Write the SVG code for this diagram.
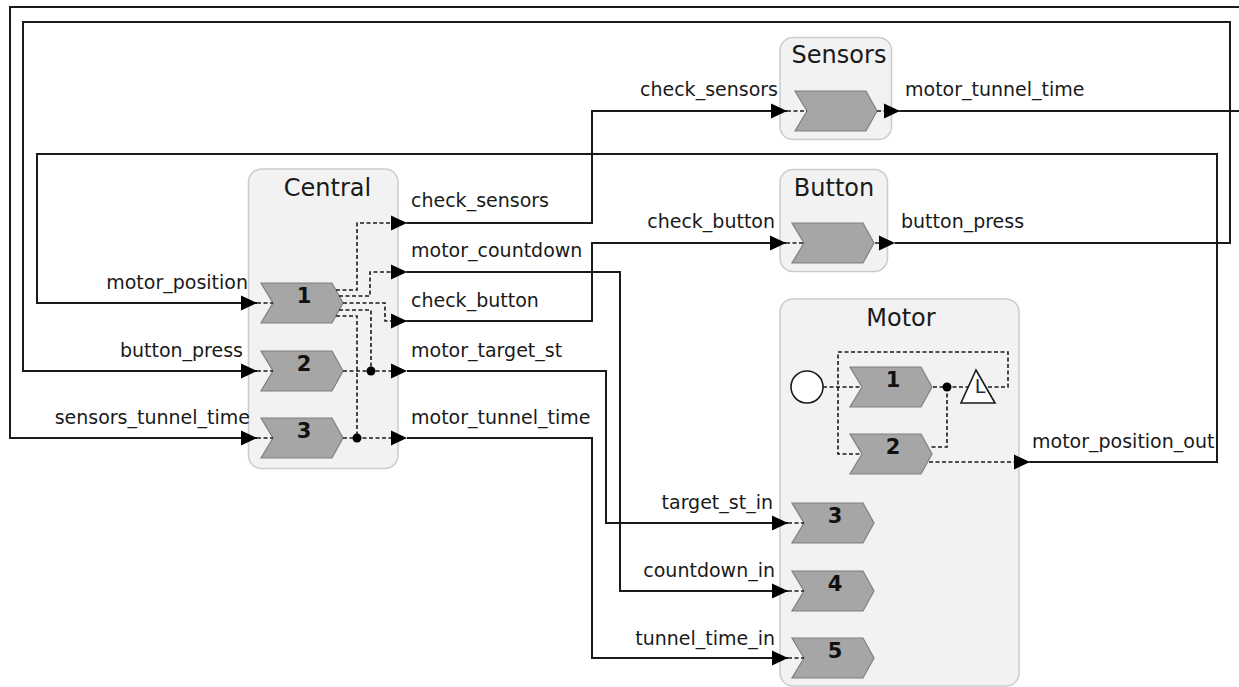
<svg xmlns="http://www.w3.org/2000/svg" xmlns:xlink="http://www.w3.org/1999/xlink" width="1239" height="687" viewBox="0 0 1239 687">
<defs>
<style>
.box{fill:#f2f2f2;stroke:#cccccc;stroke-width:1.5}
.chev{fill:#a6a6a6;stroke:#7f7f7f;stroke-width:1.2}
.title{font-family:"DejaVu Sans",sans-serif;font-size:24px;fill:#1a1a1a;text-anchor:middle}
.lbl{font-family:"DejaVu Sans",sans-serif;font-size:19px;fill:#1a1a1a}
.end{text-anchor:end}
.num{font-family:"DejaVu Sans",sans-serif;font-size:21px;font-weight:bold;fill:#111;text-anchor:middle}
.sol{fill:none;stroke:#1a1a1a;stroke-width:2}
.dash{fill:none;stroke:#1a1a1a;stroke-width:1.6;stroke-dasharray:4 2.5}
.dot{fill:#000}
</style>
<marker id="arr" markerUnits="userSpaceOnUse" markerWidth="16" markerHeight="16" refX="16" refY="8" orient="auto" viewBox="0 0 16 16">
<path d="M0,0.5 L16,8 L0,15.5 Z" fill="#000"/>
</marker>
<path id="chevron" class="chev" d="M0,-20 H71 L82,0 L71,20 H0 L12,0 Z"/>
</defs>
<rect width="1239" height="687" fill="#ffffff"/>

<g id="central">
<rect class="box" x="248.5" y="169" width="149.5" height="299.5" rx="13"/>
<text class="title" x="327.5" y="196">Central</text>
<use href="#chevron" x="261" y="303"/>
<text class="num" x="304" y="303">1</text>
<use href="#chevron" x="261" y="371"/>
<text class="num" x="304" y="371">2</text>
<use href="#chevron" x="261" y="438"/>
<text class="num" x="304" y="438">3</text>
</g>

<g id="sensors">
<rect class="box" x="780" y="37.5" width="111.5" height="102" rx="13"/>
<text class="title" x="839" y="63">Sensors</text>
<use href="#chevron" x="795" y="111"/>
</g>

<g id="button">
<rect class="box" x="780" y="169.5" width="107.5" height="102" rx="13"/>
<text class="title" x="834" y="196">Button</text>
<use href="#chevron" x="792" y="243"/>
</g>

<g id="motor">
<rect class="box" x="780" y="299" width="239" height="387" rx="13"/>
<text class="title" x="901" y="326">Motor</text>
<circle cx="807" cy="387" r="16" fill="#ffffff" stroke="#1a1a1a" stroke-width="1.6"/>
<use href="#chevron" x="850" y="387"/>
<text class="num" x="893" y="387">1</text>
<use href="#chevron" x="850" y="454"/>
<text class="num" x="893" y="454">2</text>
<path d="M976,370 L995,403 L961,403 Z" fill="#ffffff" stroke="#1a1a1a" stroke-width="1.6"/>
<text x="980" y="393" font-family="DejaVu Sans, sans-serif" font-size="19" fill="#1f2a44" text-anchor="middle">L</text>
<use href="#chevron" x="792" y="523"/>
<text class="num" x="835" y="523">3</text>
<use href="#chevron" x="792" y="591"/>
<text class="num" x="835" y="591">4</text>
<use href="#chevron" x="792" y="658"/>
<text class="num" x="835" y="658">5</text>
</g>

<g id="connectors">
<path class="sol" d="M900,111 H1250 V7 H10 V438 H257" marker-end="url(#arr)"/>
<path class="sol" d="M895,243 H1230 V22 H23 V371 H257" marker-end="url(#arr)"/>
<path class="sol" d="M1030,462 H1217 V154 H37 V303 H257" marker-end="url(#arr)"/>
<path class="sol" d="M407,223 H592 V111 H787" marker-end="url(#arr)"/>
<path class="sol" d="M407,272 H620 V591 H788" marker-end="url(#arr)"/>
<path class="sol" d="M407,321 H592 V243 H786" marker-end="url(#arr)"/>
<path class="sol" d="M407,371 H606 V523 H788" marker-end="url(#arr)"/>
<path class="sol" d="M407,438 H592 V658 H788" marker-end="url(#arr)"/>
<path class="dash" d="M257,303 H273"/>
<path class="dash" d="M257,371 H273"/>
<path class="dash" d="M257,438 H273"/>
<path class="dash" d="M336,290 H357 V223 H407" marker-end="url(#arr)"/>
<path class="dash" d="M339,296 H370 V272 H407" marker-end="url(#arr)"/>
<path class="dash" d="M343,303 H385 V321 H407" marker-end="url(#arr)"/>
<path class="dash" d="M339,310 H371 V371"/>
<path class="dash" d="M336,316 H357 V438"/>
<path class="dash" d="M343,371 H407" marker-end="url(#arr)"/>
<path class="dash" d="M343,438 H407" marker-end="url(#arr)"/>
<circle class="dot" cx="371" cy="371" r="4.5"/>
<circle class="dot" cx="357" cy="438" r="4.5"/>
<path class="dash" d="M787,111 H807"/>
<path class="dash" d="M877,111 H900" marker-end="url(#arr)"/>
<path class="dash" d="M786,243 H804"/>
<path class="dash" d="M875,243 H895" marker-end="url(#arr)"/>
<path class="dash" d="M788,523 H804"/>
<path class="dash" d="M788,591 H804"/>
<path class="dash" d="M788,658 H804"/>
<path class="dash" d="M823,387 H862"/>
<path class="dash" d="M988,387 H1008 V352 H838 V454 H862"/>
<path class="dash" d="M933,387 H968"/>
<path class="dash" d="M947,387 V447 H929"/>
<path class="dash" d="M929,462 H1030" marker-end="url(#arr)"/>
<circle class="dot" cx="947" cy="387" r="4.5"/>
</g>

<g id="labels">
<text class="lbl end" x="248" y="289">motor_position</text>
<text class="lbl end" x="243" y="357">button_press</text>
<text class="lbl end" x="250" y="424">sensors_tunnel_time</text>
<text class="lbl" x="411" y="207">check_sensors</text>
<text class="lbl" x="411" y="257">motor_countdown</text>
<text class="lbl" x="411" y="307">check_button</text>
<text class="lbl" x="411" y="357">motor_target_st</text>
<text class="lbl" x="411" y="424">motor_tunnel_time</text>
<text class="lbl end" x="778" y="96">check_sensors</text>
<text class="lbl" x="905" y="96">motor_tunnel_time</text>
<text class="lbl end" x="775" y="228">check_button</text>
<text class="lbl" x="901" y="228">button_press</text>
<text class="lbl end" x="773" y="509">target_st_in</text>
<text class="lbl end" x="775" y="577">countdown_in</text>
<text class="lbl end" x="775" y="645">tunnel_time_in</text>
<text class="lbl" x="1032" y="448">motor_position_out</text>
</g>
</svg>
